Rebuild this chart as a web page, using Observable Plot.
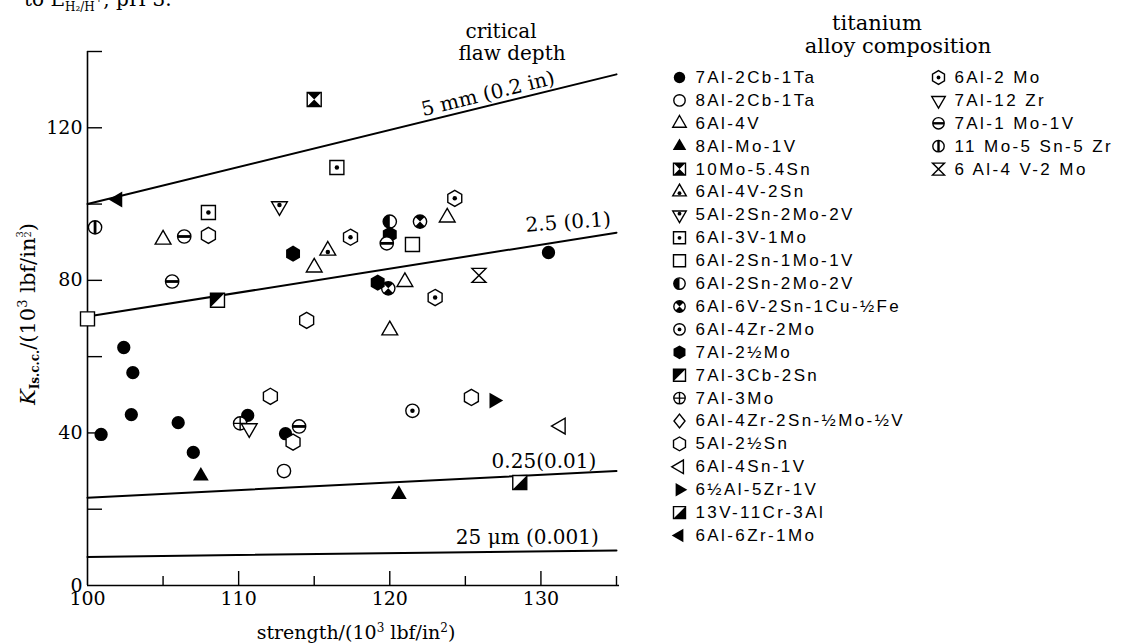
<!DOCTYPE html>
<html><head><meta charset="utf-8">
<script src="https://cdn.jsdelivr.net/npm/d3@7"></script>
<script src="https://cdn.jsdelivr.net/npm/@observablehq/plot@0.6"></script>
<style>
html,body{margin:0;padding:0;background:#fff;}
body{width:1133px;height:643px;overflow:hidden;position:relative;font-family:"DejaVu Serif",serif;color:#000;}
#chart{position:absolute;left:0;top:0;}
#legend{position:absolute;left:660px;top:0;}
.ann{position:absolute;font-family:"DejaVu Serif",serif;font-size:20px;white-space:nowrap;line-height:0.85;transform:translate(-50%,-50%);}
.ttl{position:absolute;font-family:"DejaVu Serif",serif;font-size:21px;white-space:nowrap;line-height:0.85;transform:translate(-50%,-50%);}
</style></head><body>
<div id="chart"></div>
<div id="legend"></div>
<div class="ann" style="left:501px;top:31px">critical</div>
<div class="ann" style="left:512px;top:53px">flaw depth</div>
<div class="ttl" style="left:877px;top:24px">titanium</div>
<div class="ttl" style="left:898px;top:47px">alloy composition</div>
<script>
// ---------- data ----------
const alloyNames = ["7Al-2Cb-1Ta","8Al-2Cb-1Ta","6Al-4V","8Al-Mo-1V","10Mo-5.4Sn","6Al-4V-2Sn","5Al-2Sn-2Mo-2V","6Al-3V-1Mo","6Al-2Sn-1Mo-1V","6Al-2Sn-2Mo-2V","6Al-6V-2Sn-1Cu-½Fe","6Al-4Zr-2Mo","7Al-2½Mo","7Al-3Cb-2Sn","7Al-3Mo","6Al-4Zr-2Sn-½Mo-½V","5Al-2½Sn","6Al-4Sn-1V","6½Al-5Zr-1V","13V-11Cr-3Al","6Al-6Zr-1Mo","6Al-2 Mo","7Al-12 Zr","7Al-1 Mo-1V","11 Mo-5 Sn-5 Zr","6 Al-4 V-2 Mo"];

const pointAlloy    = [0,0,0,0,0,0,0,0,0, 1, 2,2,2,2,2, 3,3, 4, 5, 6, 7,7, 8,8, 9, 10,10, 11, 12,12,12, 13, 14, 16,16,16,16,16, 17, 18, 19, 20, 21,21,21, 22, 23,23,23,23, 24, 25];
const pointStrength = [102.4,103.0,102.9,100.9,106.0,107.0,110.6,113.1,130.5, 113.0, 105.0,115.0,123.8,121.0,120.0, 107.5,120.6, 115.0, 115.9, 112.7, 108.0,116.5, 100.0,121.5, 120.0, 122.0,119.9, 121.5, 113.6,120.0,119.2, 108.6, 110.1, 108.0,114.5,112.1,113.6,125.4, 131.3, 126.9, 128.6, 102.0, 117.4,124.3,123.0, 110.7, 106.4,105.6,119.8,114.0, 100.5, 125.9];
const pointK        = [62.4,55.8,44.8,39.6,42.7,34.9,44.6,39.8,87.3, 30.0, 90.7,83.4,96.5,79.6,66.9, 28.7,23.9, 127.4, 87.8, 99.4, 97.8,109.6, 69.9,89.4, 95.4, 95.4,77.9, 45.8, 87.0,92.0,79.4, 74.8, 42.5, 91.8,69.5,49.6,37.6,49.3, 41.8, 48.5, 27.0, 101.2, 91.3,101.5,75.5, 41.2, 91.5,79.7,89.7,41.7, 93.9, 81.3];

const flawNames = ["5 mm (0.2 in)", "2.5 (0.1)", "0.25(0.01)", "25 μm (0.001)"];
const flawK100  = [100, 70.5, 23, 7.5];
const flawK135  = [134, 92.5, 30, 9.2];
const flawLabelAt = [126.5, 131.8, 130.2, 129.1];

const xTickLabels = [100, 110, 120, 130];
const xMinorTicks = [105, 115, 125, 135];
const yTickLabels = [0, 40, 80, 120];
const yTicks = [20, 40, 60, 80, 100, 120, 140];

// ---------- styles ----------
const alloyLayers = [
  [["circle","solid"]],
  [["circle","open"]],
  [["triUp","open"]],
  [["triUp","solid"]],
  [["square","open"],["sqHour","solid"]],
  [["triUp","open"],["dotT","solid"]],
  [["triDown","open"],["dotD","solid"]],
  [["square","open"],["dot","solid"]],
  [["square","open"]],
  [["circle","open"],["halfLeft","solid"]],
  [["circle","open"],["bowCircle","solid"]],
  [["circle","open"],["dot","solid"]],
  [["hexagon","solid"]],
  [["square","open"],["ulTri","solid"]],
  [["circle","open"],["plus","line"]],
  [["diamond","open"]],
  [["hexagon","open"]],
  [["triLeft","open"]],
  [["triRight","solid"]],
  [["square","open"],["lrTri","solid"]],
  [["triLeft","solid"]],
  [["hexagon","open"],["dot","solid"]],
  [["triDown","open"]],
  [["circle","open"],["hband","solid"]],
  [["circle","open"],["vband","solid"]],
  [["hourglass","open"]]
];

const Rr = s => Math.sqrt(s / Math.PI);
function poly(c, pts){ c.moveTo(pts[0][0], pts[0][1]); for (let k=1;k<pts.length;k++) c.lineTo(pts[k][0], pts[k][1]); c.closePath(); }
const sym = {
  circle:{draw(c,s){const r=Rr(s)*0.95; c.moveTo(r,0); c.arc(0,0,r,0,2*Math.PI); c.closePath();}},
  dot:{draw(c,s){const r=Rr(s)*0.32; c.moveTo(r,0); c.arc(0,0,r,0,2*Math.PI); c.closePath();}},
  dotT:{draw(c,s){const r=Rr(s)*0.32, y=Rr(s)*0.2; c.moveTo(r,y); c.arc(0,y,r,0,2*Math.PI); c.closePath();}},
  dotD:{draw(c,s){const r=Rr(s)*0.32, y=-Rr(s)*0.2; c.moveTo(r,y); c.arc(0,y,r,0,2*Math.PI); c.closePath();}},
  square:{draw(c,s){const h=Rr(s); poly(c,[[-h,-h],[h,-h],[h,h],[-h,h]]);}},
  sqHour:{draw(c,s){const h=Rr(s); poly(c,[[-h,-h],[h,-h],[0,0]]); poly(c,[[-h,h],[h,h],[0,0]]);}},
  ulTri:{draw(c,s){const h=Rr(s); poly(c,[[-h,-h],[h,-h],[-h,h]]);}},
  lrTri:{draw(c,s){const h=Rr(s); poly(c,[[h,-h],[h,h],[-h,h]]);}},
  triUp:{draw(c,s){const r=Rr(s)*1.3; poly(c,[[0,-r],[r*0.866,r*0.5],[-r*0.866,r*0.5]]);}},
  triDown:{draw(c,s){const r=Rr(s)*1.3; poly(c,[[0,r],[r*0.866,-r*0.5],[-r*0.866,-r*0.5]]);}},
  triLeft:{draw(c,s){const r=Rr(s)*1.3; poly(c,[[-r,0],[r*0.5,-r*0.866],[r*0.5,r*0.866]]);}},
  triRight:{draw(c,s){const r=Rr(s)*1.3; poly(c,[[r,0],[-r*0.5,-r*0.866],[-r*0.5,r*0.866]]);}},
  hexagon:{draw(c,s){const r=Rr(s)*1.15; const p=[]; for(let k=0;k<6;k++){const a=-Math.PI/2+k*Math.PI/3; p.push([r*Math.cos(a), r*Math.sin(a)]);} poly(c,p);}},
  diamond:{draw(c,s){const r=Rr(s)*1.15; poly(c,[[0,-r],[r*0.8,0],[0,r],[-r*0.8,0]]);}},
  halfLeft:{draw(c,s){const r=Rr(s)*0.95; c.moveTo(0,r); c.arc(0,0,r,Math.PI/2,3*Math.PI/2); c.closePath();}},
  bowCircle:{draw(c,s){const r=Rr(s)*0.95; c.moveTo(0,0); c.arc(0,0,r,-3*Math.PI/4,-Math.PI/4); c.closePath(); c.moveTo(0,0); c.arc(0,0,r,Math.PI/4,3*Math.PI/4); c.closePath();}},
  plus:{draw(c,s){const r=Rr(s)*0.95; c.moveTo(-r,0); c.lineTo(r,0); c.moveTo(0,-r); c.lineTo(0,r);}},
  hband:{draw(c,s){const r=Rr(s)*0.93, w=Rr(s)*0.2; poly(c,[[-r,-w],[r,-w],[r,w],[-r,w]]);}},
  vband:{draw(c,s){const r=Rr(s)*0.93, w=Rr(s)*0.2; poly(c,[[-w,-r],[w,-r],[w,r],[-w,r]]);}},
  hourglass:{draw(c,s){const h=Rr(s); poly(c,[[-h,-h],[h,-h],[-h,h],[h,h]]);}}
};
function styleFor(mode){
  if (mode === "solid") return {fill: "black", stroke: "none"};
  if (mode === "line") return {fill: "none", stroke: "black", strokeWidth: 1.4};
  return {fill: "white", stroke: "black", strokeWidth: 1.4};
}

// ---------- chart ----------
const pointIdx = d3.range(pointAlloy.length);
const pointMarks = [];
alloyNames.forEach((name, a) => {
  const idx = pointIdx.filter(i => pointAlloy[i] === a);
  if (!idx.length) return;
  alloyLayers[a].forEach(([shape, mode]) => {
    pointMarks.push(Plot.dot(idx, {x: i => pointStrength[i], y: i => pointK[i], symbol: sym[shape], r: 7, ...styleFor(mode)}));
  });
});

const flawLines = flawNames.flatMap((n, j) => [{name: n, s: 100, k: flawK100[j]}, {name: n, s: 135, k: flawK135[j]}]);
const flawLabels = flawNames.map((n, j) => ({name: n, s: flawLabelAt[j], k: flawK100[j] + (flawK135[j] - flawK100[j]) * (flawLabelAt[j] - 100) / 35}));
const labelDy = [-12, -18, -13, -14];
const labelRot = [-13.8, -4, 0, 0];

const chart = Plot.plot({
  width: 660, height: 643,
  marginLeft: 87, marginRight: 44, marginTop: 51, marginBottom: 58,
  x: {domain: [100, 135]},
  y: {domain: [0, 140]},
  style: {fontFamily: "DejaVu Serif", fontSize: "19px", color: "black", background: "white", overflow: "visible"},
  marks: [
    Plot.ruleX([100], {y1: 0, y2: 140, strokeWidth: 1.6}),
    Plot.ruleY([0], {x1: 100, x2: 135.2, strokeWidth: 1.6}),
    Plot.axisY({ticks: yTicks, tickSize: 15, dx: 15, tickFormat: () => "", label: null, strokeWidth: 1.4}),
    Plot.axisY({ticks: yTickLabels, tickSize: 0, tickPadding: 5, label: null, fontSize: 19}),
    Plot.axisX({ticks: [110, 120, 130], tickSize: 14, dy: -14, tickFormat: () => "", label: null, strokeWidth: 1.4}),
    Plot.axisX({ticks: xMinorTicks, tickSize: 9, dy: -9, tickFormat: () => "", label: null, strokeWidth: 1.4}),
    Plot.axisX({ticks: xTickLabels, tickSize: 0, tickPadding: 6, label: null, fontSize: 19}),
    Plot.line(flawLines, {x: "s", y: "k", z: "name", stroke: "black", strokeWidth: 2}),
    ...flawLabels.map((d, j) => Plot.text([d], {x: "s", y: "k", text: "name", dy: labelDy[j], rotate: labelRot[j], fontSize: 20, fill: "black"})),
    ...pointMarks
  ]
});
document.getElementById("chart").appendChild(chart);

// axis titles and cut-off caption fragment
const svg = d3.select(chart);
const yl = svg.append("text").attr("transform", "translate(35,314) rotate(-90)")
  .attr("text-anchor", "middle").attr("font-family", "DejaVu Serif").attr("font-size", 21).attr("fill", "black");
yl.append("tspan").attr("font-style", "italic").text("K");
yl.append("tspan").attr("font-size", 12).attr("font-weight", "bold").attr("dy", 4).text("Is.c.c.");
yl.append("tspan").attr("dy", -4).text("/(10");
yl.append("tspan").attr("font-size", 13).attr("dy", -8).text("3");
yl.append("tspan").attr("dy", 8).text(" lbf/in");
yl.append("tspan").attr("font-size", 10).attr("dy", -12).text("3");
yl.append("tspan").attr("font-size", 10).attr("dx", -6.4).attr("dy", 8).text("2");
yl.append("tspan").attr("dy", 4).text(")");

const xl = svg.append("text").attr("x", 356).attr("y", 639).attr("text-anchor", "middle")
  .attr("font-family", "DejaVu Serif").attr("font-size", 19).attr("fill", "black");
xl.append("tspan").text("strength/(10");
xl.append("tspan").attr("font-size", 12).attr("dy", -7).text("3");
xl.append("tspan").attr("dy", 7).text(" lbf/in");
xl.append("tspan").attr("font-size", 12).attr("dy", -7).text("2");
xl.append("tspan").attr("dy", 7).text(")");

const fr = svg.append("text").attr("x", 24).attr("y", 6).attr("text-anchor", "start")
  .attr("font-family", "DejaVu Serif").attr("font-size", 20).attr("fill", "black");
fr.append("tspan").text("to E");
fr.append("tspan").attr("font-size", 12).attr("dy", 5).text("H₂/H");
fr.append("tspan").attr("font-size", 10).attr("dy", -9).text("+");
fr.append("tspan").attr("dy", 4).text(", pH 3.");

// ---------- legend ----------
const legendIdx = d3.range(alloyNames.length);
const legendCol = legendIdx.map(i => i < 21 ? 0 : 1);
const legendRow = legendIdx.map(i => i < 21 ? i : i - 21);
const legendMarks = [];
legendIdx.forEach(a => {
  alloyLayers[a].forEach(([shape, mode]) => {
    legendMarks.push(Plot.dot([a], {x: i => legendCol[i], y: i => legendRow[i], symbol: sym[shape], r: 6, ...styleFor(mode)}));
  });
});
const legend = Plot.plot({
  width: 473, height: 643, margin: 0,
  x: {domain: [0, 1], range: [19, 278], axis: null},
  y: {domain: [0, 20], range: [77, 535], axis: null},
  style: {fontFamily: "Liberation Sans", fontSize: "17px", letterSpacing: "2.4px", color: "black", background: "transparent"},
  marks: [
    ...legendMarks,
    Plot.text(legendIdx, {x: i => legendCol[i], y: i => legendRow[i], text: i => alloyNames[i], textAnchor: "start", dx: 16, fontSize: 17, fill: "black"})
  ]
});
document.getElementById("legend").appendChild(legend);
</script>
</body></html>
